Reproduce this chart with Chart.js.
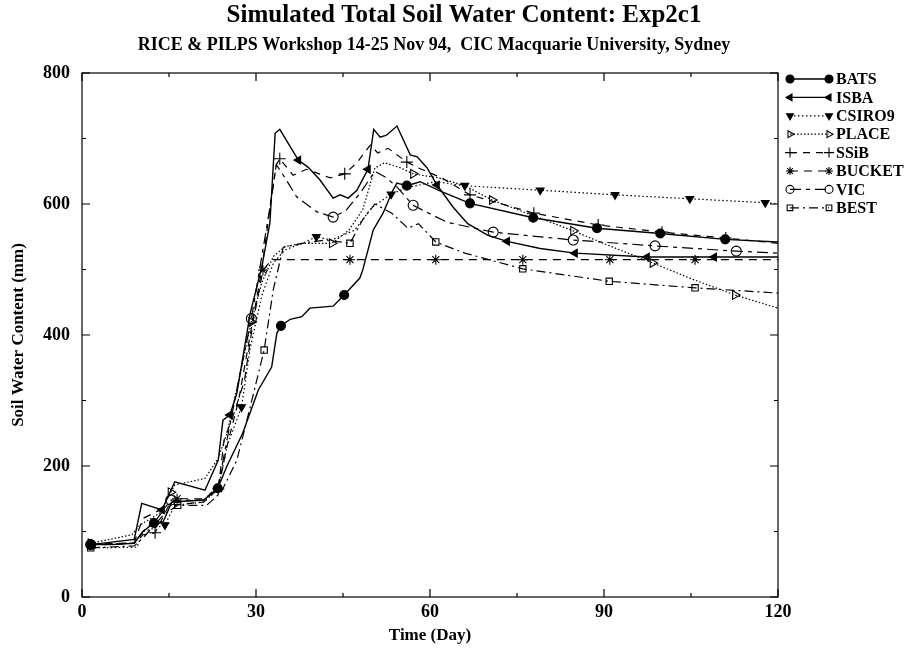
<!DOCTYPE html>
<html>
<head>
<meta charset="utf-8">
<title>Simulated Total Soil Water Content: Exp2c1</title>
<script src="https://cdn.jsdelivr.net/npm/chart.js@4.4.1/dist/chart.umd.min.js"></script>
<style>
  html, body { margin: 0; padding: 0; background: #fff; }
  #wrap { width: 907px; height: 648px; position: relative; }
</style>
</head>
<body>
<div id="wrap"><canvas id="soilChart" width="907" height="648"></canvas></div>
<script>
// Texts
const chartTitle = 'Simulated Total Soil Water Content: Exp2c1';
const chartSubtitle = 'RICE & PILPS Workshop 14-25 Nov 94,  CIC Macquarie University, Sydney';
const xTitle = 'Time (Day)';
const yTitle = 'Soil Water Content (mm)';

// Axis ticks
const xTicks = [0, 30, 60, 90, 120];
const yTicks = [0, 200, 400, 600, 800];

// Series: days, values (mm), and days that carry a marker
const batsDays = [1.5, 5, 9, 10.5, 12.4, 14, 15.5, 21, 23.4, 25, 27.7, 30.4, 32.7, 33.6, 34.3, 35.9, 37.9, 39.3, 43.3, 45.2, 47.9, 48.4, 50.2, 51.9, 53.6, 54.3, 56, 58.3, 62, 66.9, 77.8, 88.8, 99.7, 110.9, 120];
const batsValues = [80, 80, 82, 100, 113, 115, 145, 148, 166, 200, 250, 316, 351, 403, 414, 424, 428, 441, 444, 461, 487, 499, 560, 586, 621, 632, 628, 634, 619, 601, 579, 563, 555, 546, 542];
const batsMarks = [1.5, 12.4, 23.4, 34.3, 45.2, 56, 66.9, 77.8, 88.8, 99.7, 110.9];

const isbaDays = [1.5, 9, 10.3, 13.8, 16, 21.2, 23.5, 24.3, 25.5, 26.7, 29, 31, 32.4, 33.3, 34.1, 37.3, 39, 41, 43.3, 44.5, 45.9, 47.4, 49.3, 50.3, 51.4, 52.5, 54.3, 56.6, 57.8, 59.5, 61.2, 64, 66.5, 70, 73.3, 79, 85, 97.4, 109, 120];
const isbaValues = [80, 88, 143, 133, 176, 163, 209, 270, 278, 311, 433, 504, 571, 708, 714, 667, 656, 637, 609, 614, 609, 621, 653, 714, 702, 705, 719, 675, 672, 655, 629, 595, 570, 552, 543, 532, 525, 519, 519, 519];
const isbaMarks = [13.8, 25.5, 37.3, 49.3, 61.2, 73.3, 85, 97.4, 109];

const csiroDays = [1.5, 9.5, 10.5, 14.3, 16, 21, 23.5, 25, 27.5, 29, 31, 33, 35, 38, 40.4, 43, 47, 50, 53.3, 56, 60.9, 66, 79, 91.9, 104.8, 117.8, 120];
const csiroValues = [75, 76, 100, 110, 140, 145, 165, 230, 290, 380, 460, 510, 530, 540, 550, 545, 560, 595, 615, 625, 634, 628, 621, 614, 608, 602, 600];
const csiroMarks = [14.3, 27.5, 40.4, 53.3, 66, 79, 91.9, 104.8, 117.8];

const placeDays = [1.5, 8.6, 10, 13.4, 15.3, 16, 21.2, 23.5, 25, 27, 29.2, 31, 33, 35, 38, 43.1, 46, 48.4, 50.5, 52.2, 55, 57.1, 61.4, 66, 70.7, 77, 84.7, 91, 98.4, 105, 112.6, 120];
const placeValues = [82, 95, 110, 128, 160, 171, 181, 212, 250, 330, 420, 480, 520, 535, 540, 540, 560, 591, 655, 663, 655, 646, 640, 628, 606, 585, 559, 536, 510, 486, 461, 441];
const placeMarks = [1.5, 15.3, 29.2, 43.1, 57.1, 70.7, 84.7, 98.4, 112.6];

const ssibDays = [1.5, 9, 10.5, 12.6, 15, 21, 23.5, 25, 27, 29, 31, 32.5, 33.5, 34.1, 36.4, 38.7, 42.8, 45.3, 47.4, 49.7, 51, 52.8, 56, 58, 62, 66.9, 77.9, 89, 100, 111, 120];
const ssibValues = [80, 82, 95, 98, 140, 145, 165, 230, 300, 400, 500, 600, 660, 669, 644, 653, 640, 646, 663, 690, 678, 685, 664, 655, 640, 614, 586, 568, 557, 548, 540];
const ssibMarks = [12.6, 23.5, 34.1, 45.3, 56, 66.9, 77.9, 89, 100, 111];

const bucketDays = [1.5, 9, 10.5, 14, 16.4, 21, 23.5, 24.5, 26, 28, 29.5, 31.2, 32.7, 46.2, 61, 76, 91, 105.7, 120];
const bucketValues = [80, 83, 120, 135, 150, 150, 165, 240, 275, 330, 420, 499, 515, 515, 515, 515, 515, 515, 515];
const bucketMarks = [1.5, 16.4, 31.2, 46.2, 61, 76, 91, 105.7];

const vicDays = [1.5, 9, 10.5, 13, 15.3, 21, 23.5, 25, 27, 29.2, 31, 32.5, 33.5, 35, 37, 40.5, 43.3, 45.5, 48, 50.5, 52.5, 54.3, 57.1, 60, 63, 70.9, 84.7, 98.8, 112.8, 120];
const vicValues = [80, 82, 100, 120, 148, 148, 170, 240, 330, 425, 520, 600, 660, 640, 611, 588, 580, 590, 617, 650, 640, 626, 598, 585, 572, 557, 545, 536, 528, 525];
const vicMarks = [1.5, 15.3, 29.2, 43.3, 57.1, 70.9, 84.7, 98.8, 112.8];

const bestDays = [1.5, 9, 10.5, 14, 16.5, 21.5, 24, 26.7, 29, 31.4, 33, 34.7, 38, 42, 46.2, 48.4, 50.5, 53.4, 56.2, 58, 61, 66, 76, 90.9, 105.7, 120];
const bestValues = [75, 78, 90, 125, 140, 140, 160, 209, 290, 377, 470, 534, 540, 545, 540, 576, 600, 586, 563, 570, 542, 525, 501, 482, 472, 464];
const bestMarks = [1.5, 16.5, 31.4, 46.2, 61, 76, 90.9, 105.7];

const serif = "'Liberation Serif', 'Times New Roman', serif";
const ink = '#000';

function toPoints(days, values) {
  return days.map((d, i) => ({ x: d, y: values[i] }));
}

// one line dataset, markers only on the marked days
function series(label, days, values, marks, style) {
  return {
    label: label,
    data: toPoints(days, values),
    borderColor: ink,
    borderWidth: style.width || 1.2,
    borderDash: style.dash || [],
    pointStyle: style.point,
    pointRotation: style.rotation || 0,
    pointBackgroundColor: style.filled ? ink : 'rgba(0,0,0,0)',
    pointBorderColor: ink,
    pointBorderWidth: 1.1,
    pointRadius: ctx => (ctx.raw && marks.includes(ctx.raw.x)) ? style.radius : 0,
    pointHoverRadius: 0,
    tension: 0,
    fill: false
  };
}

const datasets = [
  series('BATS', batsDays, batsValues, batsMarks, { point: 'circle', filled: true, radius: 4.5, width: 1.4 }),
  series('ISBA', isbaDays, isbaValues, isbaMarks, { point: 'triangle', rotation: -90, filled: true, radius: 4.5, width: 1.4 }),
  series('CSIRO9', csiroDays, csiroValues, csiroMarks, { point: 'triangle', rotation: 180, filled: true, radius: 4.5, dash: [1.5, 2.5] }),
  series('PLACE', placeDays, placeValues, placeMarks, { point: 'triangle', rotation: 90, filled: false, radius: 5, dash: [1.5, 2] }),
  series('SSiB', ssibDays, ssibValues, ssibMarks, { point: 'cross', filled: false, radius: 6, dash: [7, 6] }),
  series('BUCKET', bucketDays, bucketValues, bucketMarks, { point: 'star', filled: false, radius: 5, dash: [8, 6] }),
  series('VIC', vicDays, vicValues, vicMarks, { point: 'circle', filled: false, radius: 5, dash: [11, 5, 4, 5] }),
  series('BEST', bestDays, bestValues, bestMarks, { point: 'rect', filled: false, radius: 4.5, dash: [9, 4, 2, 4] })
];

// Title and subtitle
const headings = {
  id: 'headings',
  afterDraw(chart) {
    const ctx = chart.ctx;
    ctx.save();
    ctx.fillStyle = ink;
    ctx.textAlign = 'center';
    ctx.textBaseline = 'middle';
    ctx.font = 'bold 25px ' + serif;
    ctx.fillText(chartTitle, 464, 16);
    ctx.font = 'bold 18px ' + serif;
    ctx.fillText(chartSubtitle, 434, 45);
    ctx.restore();
  }
};

// Box round the plot with inward ticks on all four sides
const frame = {
  id: 'frame',
  afterDatasetsDraw(chart) {
    const { ctx, chartArea: a, scales } = chart;
    ctx.save();
    ctx.strokeStyle = ink;
    ctx.lineWidth = 1.2;
    ctx.setLineDash([]);
    ctx.strokeRect(a.left, a.top, a.right - a.left, a.bottom - a.top);
    ctx.beginPath();
    for (let v = 0; v <= 800; v += 100) {
      const y = scales.y.getPixelForValue(v);
      const len = v % 200 === 0 ? 8 : 4;
      ctx.moveTo(a.left, y); ctx.lineTo(a.left + len, y);
      ctx.moveTo(a.right, y); ctx.lineTo(a.right - len, y);
    }
    for (let d = 0; d <= 120; d += 15) {
      const x = scales.x.getPixelForValue(d);
      const len = d % 30 === 0 ? 8 : 4;
      ctx.moveTo(x, a.bottom); ctx.lineTo(x, a.bottom - len);
      ctx.moveTo(x, a.top); ctx.lineTo(x, a.top + len);
    }
    ctx.stroke();
    ctx.restore();
  }
};

// Legend on the right: sample line with a marker at each end
const sideLegend = {
  id: 'sideLegend',
  afterDraw(chart) {
    const ctx = chart.ctx;
    const x0 = 790, x1 = 829, textX = 836, top = 79, step = 18.4;
    ctx.save();
    chart.data.datasets.forEach((ds, i) => {
      const y = top + i * step;
      ctx.strokeStyle = ink;
      ctx.lineWidth = ds.borderWidth;
      ctx.setLineDash(ds.borderDash);
      ctx.beginPath();
      ctx.moveTo(x0, y);
      ctx.lineTo(x1, y);
      ctx.stroke();
      ctx.setLineDash([]);
      const opts = {
        pointStyle: ds.pointStyle,
        rotation: ds.pointRotation,
        radius: ds.label === 'SSiB' ? 5 : 4,
        borderWidth: 1.1
      };
      ctx.fillStyle = ds.pointBackgroundColor;
      ctx.strokeStyle = ink;
      ctx.lineWidth = 1.1;
      Chart.helpers.drawPoint(ctx, opts, x0, y);
      Chart.helpers.drawPoint(ctx, opts, x1, y);
      ctx.fillStyle = ink;
      ctx.font = 'bold 16px ' + serif;
      ctx.textAlign = 'left';
      ctx.textBaseline = 'middle';
      ctx.fillText(ds.label, textX, y + 1);
    });
    ctx.restore();
  }
};

new Chart(document.getElementById('soilChart'), {
  type: 'line',
  data: { datasets: datasets },
  options: {
    responsive: false,
    animation: false,
    events: [],
    layout: { padding: { top: 73, right: 129, left: 0, bottom: 0 } },
    plugins: {
      legend: { display: false },
      title: { display: false },
      tooltip: { enabled: false }
    },
    scales: {
      x: {
        type: 'linear',
        min: 0,
        max: 120,
        afterFit: s => { s.height = 51; },
        afterBuildTicks: s => { s.ticks = xTicks.map(v => ({ value: v })); },
        grid: { display: false, drawTicks: false },
        border: { display: false },
        ticks: {
          color: ink,
          padding: 5,
          maxRotation: 0,
          font: { family: serif, size: 18, weight: 'bold' }
        },
        title: {
          display: true,
          text: xTitle,
          color: ink,
          padding: { top: 0, bottom: 2 },
          font: { family: serif, size: 17, weight: 'bold' }
        }
      },
      y: {
        type: 'linear',
        min: 0,
        max: 800,
        afterFit: s => { s.width = 82; },
        afterBuildTicks: s => { s.ticks = yTicks.map(v => ({ value: v })); },
        grid: { display: false, drawTicks: false },
        border: { display: false },
        ticks: {
          color: ink,
          padding: 12,
          font: { family: serif, size: 18, weight: 'bold' }
        },
        title: {
          display: true,
          text: yTitle,
          color: ink,
          padding: { top: 8, bottom: 0 },
          font: { family: serif, size: 17, weight: 'bold' }
        }
      }
    }
  },
  plugins: [headings, frame, sideLegend]
});
</script>
</body>
</html>
